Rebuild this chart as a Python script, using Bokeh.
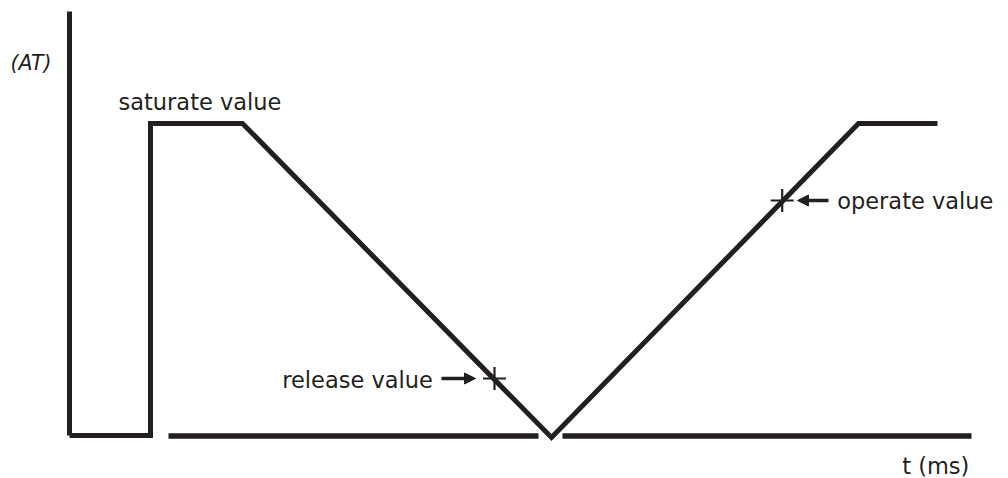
from bokeh.plotting import figure
from bokeh.models import Range1d, Arrow, NormalHead, ColumnDataSource
from bokeh.core.properties import value
from bokeh.embed import file_html
from bokeh.resources import INLINE

# ---- data (schematic units: t in ms-like units, field in AT-like units) ----
axis_t = [0, 0]
axis_at = [0, 424]

signal_t = [0, 81, 81, 173, 482, 789, 868]
signal_at = [0, 0, 312, 312, -2, 312, 312]

base_t0 = [99, 493]
base_t1 = [469, 902]
base_at = [-0.5, -0.5]

mark_names = ["release value", "operate value"]
mark_t = [425, 712.7]
mark_at = [57, 235]

arrow_t0 = [372, 759]
arrow_t1 = [406, 728]

label_text = ["saturate value", "release value", "operate value", "t (ms)"]
label_t = [49, 212.7, 767.7, 832.7]
label_at = [334, 56, 235, -30]

ylab_text = ["(AT)"]
ylab_t = [-59]
ylab_at = [373]

INK = "#231f20"
FONT = value("DejaVu Sans")

W, H = 1008, 478
p = figure(width=W, height=H, output_backend="svg", toolbar_location=None,
           x_range=Range1d(-69, -69 + W), y_range=Range1d(435 - H, 435),
           min_border=0, outline_line_color=None)
p.axis.visible = False
p.grid.visible = False
p.background_fill_color = "white"
p.border_fill_color = "white"

p.line(axis_t, axis_at, line_width=5, line_color=INK)
p.line(signal_t, signal_at, line_width=5, line_color=INK, line_join="miter")
p.segment(x0=base_t0, y0=base_at, x1=base_t1, y1=base_at, line_width=5.5, line_color=INK)

p.scatter(mark_t, mark_at, marker="cross", size=23, line_width=2.2, line_color=INK)

for a0, a1, y in zip(arrow_t0, arrow_t1, mark_at):
    p.add_layout(Arrow(end=NormalHead(size=11, fill_color=INK, line_color=INK, line_width=1),
                       x_start=a0, y_start=y, x_end=a1, y_end=y,
                       line_width=3.5, line_color=INK))

src = ColumnDataSource(dict(x=label_t, y=label_at, text=label_text))
p.text(x="x", y="y", text="text", source=src, text_font=FONT, text_font_size="22.5px",
       text_baseline="middle", text_align="left", text_color=INK)

p.text(x=ylab_t, y=ylab_at, text=ylab_text, text_font=FONT, text_font_size="20.5px",
       text_font_style="italic", text_baseline="middle", text_align="left", text_color=INK)

open("out.html", "w").write(file_html(p, INLINE))
